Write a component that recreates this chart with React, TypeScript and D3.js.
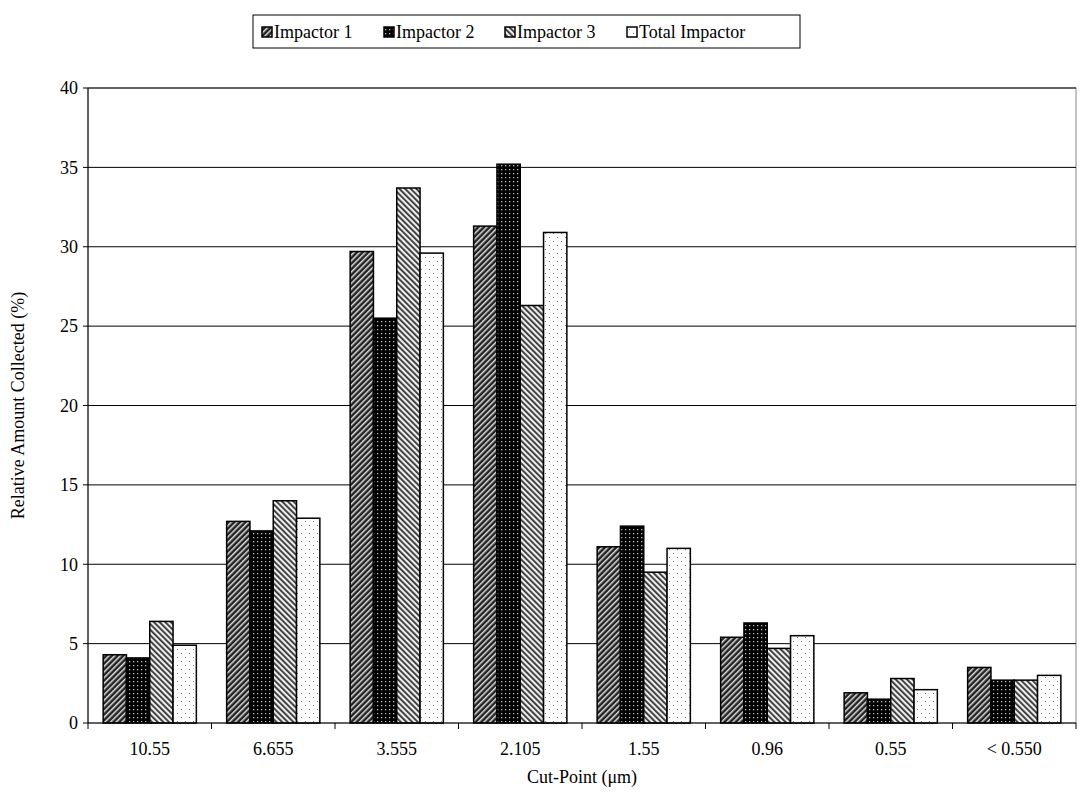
import * as d3 from 'd3';

const categories = ['10.55', '6.655', '3.555', '2.105', '1.55', '0.96', '0.55', '< 0.550'];
const seriesNames = ['Impactor 1', 'Impactor 2', 'Impactor 3', 'Total Impactor'];
const impactor1 = [4.3, 12.7, 29.7, 31.3, 11.1, 5.4, 1.9, 3.5];
const impactor2 = [4.1, 12.1, 25.5, 35.2, 12.4, 6.3, 1.5, 2.7];
const impactor3 = [6.4, 14.0, 33.7, 26.3, 9.5, 4.7, 2.8, 2.7];
const totalImpactor = [4.9, 12.9, 29.6, 30.9, 11.0, 5.5, 2.1, 3.0];
const yTicks = [0, 5, 10, 15, 20, 25, 30, 35, 40];

const series = [impactor1, impactor2, impactor3, totalImpactor];
const fills = ['url(#p1)', 'url(#p2)', 'url(#p3)', 'url(#p4)'];

export default function App() {
  const W = 1090, H = 799;
  const m = { left: 88, right: 1076, top: 88, bottom: 723 };
  const x = d3.scaleBand().domain(categories).range([m.left, m.right]);
  const xi = d3.scaleBand().domain(seriesNames.map(String)).range([0, x.bandwidth()]).paddingOuter(0.65).paddingInner(0);
  const y = d3.scaleLinear().domain([0, 40]).range([m.bottom, m.top]);
  const font = "'Liberation Serif', 'DejaVu Serif', serif";

  return (
    <svg width={W} height={H} style={{ position: 'absolute', left: 0, top: 0 }} fontFamily={font}>
      <defs>
        <pattern id="p1" width="4" height="4" patternUnits="userSpaceOnUse" patternTransform="rotate(45)">
          <rect width="4" height="4" fill="#222" />
          <rect width="1.5" height="4" fill="#ddd" />
        </pattern>
        <pattern id="p2" width="4" height="4" patternUnits="userSpaceOnUse">
          <rect width="4" height="4" fill="#000" />
          <rect x="1" y="1" width="1.3" height="1.3" fill="#bbb" />
        </pattern>
        <pattern id="p3" width="4" height="4" patternUnits="userSpaceOnUse" patternTransform="rotate(-45)">
          <rect width="4" height="4" fill="#eee" />
          <rect width="1.8" height="4" fill="#333" />
        </pattern>
        <pattern id="p4" width="8" height="8" patternUnits="userSpaceOnUse">
          <rect width="8" height="8" fill="#fff" />
          <rect x="1" y="1" width="1" height="1" fill="#777" />
          <rect x="5" y="5" width="1" height="1" fill="#777" />
        </pattern>
      </defs>
      <rect x={m.left} y={m.top} width={m.right - m.left} height={m.bottom - m.top} fill="none" stroke="#888" />
      {yTicks.map(t => (
        <g key={t}>
          {t > 0 && <line x1={m.left} x2={m.right} y1={y(t)} y2={y(t)} stroke="#000" />}
          <line x1={m.left - 5} x2={m.left} y1={y(t)} y2={y(t)} stroke="#000" />
          <text x={m.left - 10} y={y(t)} dy="0.35em" textAnchor="end" fontSize={18}>{t}</text>
        </g>
      ))}
      {categories.map((c, ci) => (
        <g key={c}>
          {series.map((s, si) => (
            <rect key={si} x={x(c)! + xi(seriesNames[si])!} width={xi.bandwidth()} y={y(s[ci])}
              height={y(0) - y(s[ci])} fill={fills[si]} stroke="#000" strokeWidth={1.5} />
          ))}
          <text x={x(c)! + x.bandwidth() / 2} y={m.bottom + 32} textAnchor="middle" fontSize={18}>{c}</text>
        </g>
      ))}
      {x.domain().concat(['end']).map((c, i) => {
        const xx = m.left + i * x.bandwidth();
        return <line key={i} x1={xx} x2={xx} y1={m.bottom} y2={m.bottom + 6} stroke="#000" />;
      })}
      <line x1={m.left} x2={m.left} y1={m.top} y2={m.bottom} stroke="#000" />
      <line x1={m.left} x2={m.right} y1={m.bottom} y2={m.bottom} stroke="#000" />
      <text x={(m.left + m.right) / 2} y={m.bottom + 60} textAnchor="middle" fontSize={18}>Cut-Point (μm)</text>
      <text transform={`translate(24,${(m.top + m.bottom) / 2}) rotate(-90)`} textAnchor="middle" fontSize={18}>Relative Amount Collected (%)</text>
      <rect x={253} y={15} width={547} height={33} fill="#fff" stroke="#000" />
      {seriesNames.map((n, i) => {
        const lx = [262, 384, 505, 627][i];
        return (
          <g key={n}>
            <rect x={lx} y={27} width={10} height={10} fill={fills[i]} stroke="#000" strokeWidth={1.5} />
            <text x={lx + 12} y={38} fontSize={18}>{n}</text>
          </g>
        );
      })}
    </svg>
  );
}
